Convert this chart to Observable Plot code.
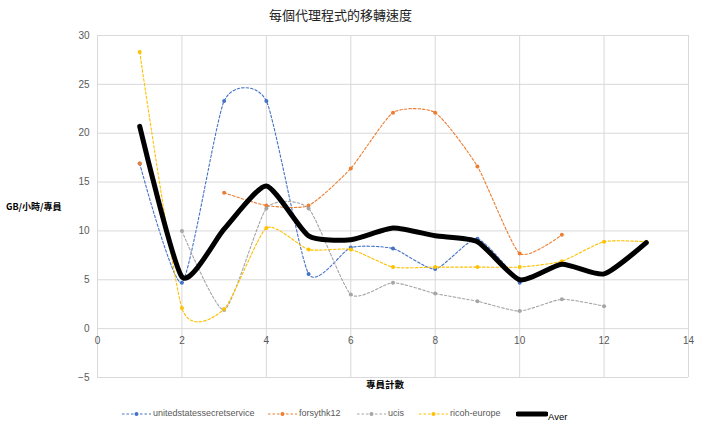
<!DOCTYPE html>
<html><head><meta charset="utf-8">
<script src="https://cdn.jsdelivr.net/npm/d3@7"></script>
<script src="https://cdn.jsdelivr.net/npm/@observablehq/plot@0.6"></script>
<style>
body{margin:0;background:#fff;}
#wrap{position:relative;width:703px;height:426px;font-family:"Liberation Sans","Noto Sans CJK TC",sans-serif;}
#wrap svg.plot{position:absolute;left:0;top:0;}
.abs{position:absolute;white-space:nowrap;}
</style>
</head><body>
<div id="wrap"></div>
<script>
const titleText = "每個代理程式的移轉速度";
const yTitle = "GB/小時/專員";
const xTitle = "專員計數";
const xs = [1,2,3,4,5,6,7,8,9,10,11,12,13];
const seriesNames = ["unitedstatessecretservice","forsythk12","ucis","ricoh-europe"];
const avgName = "Aver";
const usss   = [16.9, 4.7, 23.3, 23.3, 5.6, 8.3, 8.2, 6.1, 9.2, 4.7, null, null, null];
const forsyth= [16.9, null, 13.9, 12.6, 12.6, 16.4, 22.1, 22.1, 16.6, 7.7, 9.6, null, null];
const ucis   = [null, 10.0, 1.9, 12.3, 12.3, 3.5, 4.7, 3.6, 2.8, 1.8, 3.0, 2.3, null];
const ricoh  = [28.3, 2.1, 2.0, 10.3, 8.1, 8.1, 6.3, 6.3, 6.3, 6.3, 6.9, 8.9, 8.9];
const aver   = [20.7, 5.3, 10.2, 14.6, 9.5, 9.1, 10.3, 9.5, 8.9, 5.0, 6.6, 5.6, 8.8];
const xTicks = [0,2,4,6,8,10,12,14];
const yTicks = [-5,0,5,10,15,20,25,30];
const colors = ["#4472C4","#ED7D31","#A5A5A5","#FFC000"];

const seriesVals = [usss, forsyth, ucis, ricoh];
const data = [];
seriesNames.forEach((s,i)=>xs.forEach((x,j)=>data.push({series:s, x, y:seriesVals[i][j]})));
const avgData = xs.map((x,j)=>({x, y:aver[j]}));
const color = {domain: seriesNames, range: colors};
const smooth = d3.curveCardinal.tension(0.4);

const chart = Plot.plot({
  width: 703, height: 426,
  marginLeft: 97, marginRight: 15, marginTop: 35, marginBottom: 49,
  x: {domain: [0,14]},
  y: {domain: [-5,30]},
  color,
  style: {fontFamily: "'Liberation Sans', sans-serif", fontSize: "10px"},
  marks: [
    Plot.gridX(xTicks, {stroke: "#d9d9d9", strokeOpacity: 1}),
    Plot.gridY(yTicks, {stroke: "#d9d9d9", strokeOpacity: 1}),
    Plot.axisY(yTicks, {tickSize: 0, tickPadding: 8, fill: "#595959", label: null, fontSize: 10}),
    Plot.axisX(xTicks, {tickSize: 0, label: null, text: () => ""}),
    Plot.text(xTicks, {x: d=>d, y: 0, dy: 12, text: d=>String(d), fill: "#595959", fontSize: 10}),
    Plot.line(data, {x:"x", y:"y", z:"series", stroke:"series", curve:smooth, strokeWidth:1.1, strokeDasharray:"2.5,2"}),
    Plot.dot(data.filter(d=>d.y!=null), {x:"x", y:"y", fill:"series", r:2, stroke:"none"}),
    Plot.line(avgData, {x:"x", y:"y", stroke:"#000", curve:smooth, strokeWidth:5, strokeLinecap:"round"})
  ]
});
chart.classList.add("plot");
const wrap = document.getElementById("wrap");
wrap.appendChild(chart);

function addText(txt, css){
  const d = document.createElement("div");
  d.className = "abs"; d.textContent = txt;
  Object.assign(d.style, css);
  wrap.appendChild(d);
  return d;
}
addText(titleText, {left:"269px", top:"5px", width:"142px", textAlign:"center", fontSize:"13px", color:"#222", fontFamily:"'Noto Sans CJK TC',sans-serif"});
addText(yTitle, {left:"6px", top:"200px", fontSize:"9px", color:"#000", fontWeight:"bold", fontFamily:"'Noto Sans CJK TC',sans-serif"});
addText(xTitle, {left:"366px", top:"377px", fontSize:"9.5px", color:"#000", fontWeight:"bold", fontFamily:"'Noto Sans CJK TC',sans-serif"});

// legend
const legendItems = seriesNames.map((s,i)=>({name:s, color:colors[i]}));
const legendX = [122, 268, 357, 419];
const ns = "http://www.w3.org/2000/svg";
legendItems.forEach((it,i)=>{
  const svg = document.createElementNS(ns,"svg");
  svg.setAttribute("width","30"); svg.setAttribute("height","8");
  svg.style.position="absolute"; svg.style.left=legendX[i]+"px"; svg.style.top="410px";
  const l = document.createElementNS(ns,"line");
  l.setAttribute("x1","0"); l.setAttribute("x2","29"); l.setAttribute("y1","4"); l.setAttribute("y2","4");
  l.setAttribute("stroke",it.color); l.setAttribute("stroke-width","1.1"); l.setAttribute("stroke-dasharray","2.5,2");
  svg.appendChild(l);
  const c = document.createElementNS(ns,"circle");
  c.setAttribute("cx","14.5"); c.setAttribute("cy","4"); c.setAttribute("r","2"); c.setAttribute("fill",it.color);
  svg.appendChild(c);
  wrap.appendChild(svg);
  addText(it.name, {left:(legendX[i]+31)+"px", top:"408px", fontSize:"9px", color:"#595959"});
});
{
  const svg = document.createElementNS(ns,"svg");
  svg.setAttribute("width","32"); svg.setAttribute("height","8");
  svg.style.position="absolute"; svg.style.left="516px"; svg.style.top="410px";
  const l = document.createElementNS(ns,"line");
  l.setAttribute("x1","2"); l.setAttribute("x2","30"); l.setAttribute("y1","4"); l.setAttribute("y2","4");
  l.setAttribute("stroke","#000"); l.setAttribute("stroke-width","5"); l.setAttribute("stroke-linecap","round");
  svg.appendChild(l);
  wrap.appendChild(svg);
  addText(avgName, {left:"548px", top:"411px", fontSize:"9.5px", color:"#000"});
}
</script>
</body></html>
